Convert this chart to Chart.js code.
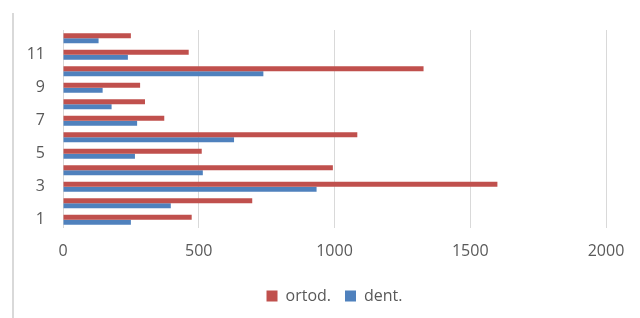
<!DOCTYPE html>
<html>
<head>
<meta charset="utf-8">
<script src="https://cdn.jsdelivr.net/npm/chart.js@4/dist/chart.umd.min.js"></script>
<style>
  html, body { margin: 0; padding: 0; background: #fff; }
  #wrap { position: relative; width: 640px; height: 318px; }
  #edge { position: absolute; left: 12px; top: 13px; width: 2px; height: 305px; background: #d9d9d9; }
</style>
</head>
<body>
<div id="wrap">
  <div id="edge"></div>
  <canvas id="myChart" width="640" height="318"></canvas>
</div>
<script>
const categorias = ['1', '2', '3', '4', '5', '6', '7', '8', '9', '10', '11', '12'];
const ortod = [474, 697, 1600, 994, 511, 1084, 373, 302, 284, 1328, 463, 250];
const dent = [250, 397, 934, 515, 265, 630, 273, 179, 146, 738, 239, 131];
const ticksX = [0, 500, 1000, 1500, 2000];

const fuente = "'Open Sans', 'Liberation Sans', sans-serif";
const ctx = document.getElementById('myChart');

// centra la leyenda sobre el area de trazado, como en Excel
const leyendaCentrada = {
  id: 'leyendaCentrada',
  beforeDraw(chart) {
    const lg = chart.legend;
    if (!lg) return;
    const ancho = lg.right - lg.left;
    const centro = (chart.chartArea.left + chart.chartArea.right) / 2;
    lg.left = centro - ancho / 2;
    lg.right = centro + ancho / 2;
  }
};

const myChart = new Chart(ctx, {
  type: 'bar',
  data: {
    labels: categorias,
    datasets: [
      { label: 'ortod.', data: ortod, backgroundColor: '#C0504D' },
      { label: 'dent.', data: dent, backgroundColor: '#4F81BD' }
    ]
  },
  options: {
    indexAxis: 'y',
    responsive: false,
    animation: false,
    layout: { padding: { top: 30, right: 34, bottom: 4, left: 0 } },
    datasets: {
      bar: { categoryPercentage: 0.6, barPercentage: 1.0 }
    },
    scales: {
      x: {
        min: ticksX[0],
        max: ticksX[ticksX.length - 1],
        afterBuildTicks: (axis) => { axis.ticks = ticksX.map(v => ({ value: v })); },
        afterFit: (axis) => { axis.height = 46; },
        grid: { color: '#d9d9d9', lineWidth: 1, drawTicks: false },
        border: { display: false },
        ticks: {
          color: '#595959',
          padding: 14,
          font: { family: fuente, size: 16 },
          callback: (v) => String(v)
        }
      },
      y: {
        reverse: true,
        grid: { display: false, drawTicks: false },
        border: { display: false },
        afterFit: (axis) => { axis.width = 63; },
        ticks: {
          autoSkip: false,
          padding: 18,
          color: '#595959',
          font: { family: fuente, size: 16 },
          callback: (v, i) => (i % 2 === 0 ? categorias[i] : '')
        }
      }
    },
    plugins: {
      legend: {
        position: 'bottom',
        labels: {
          boxWidth: 11,
          boxHeight: 11,
          padding: 14,
          color: '#595959',
          font: { family: fuente, size: 16 }
        }
      },
      tooltip: { enabled: false }
    }
  },
  plugins: [leyendaCentrada]
});
</script>
</body>
</html>
